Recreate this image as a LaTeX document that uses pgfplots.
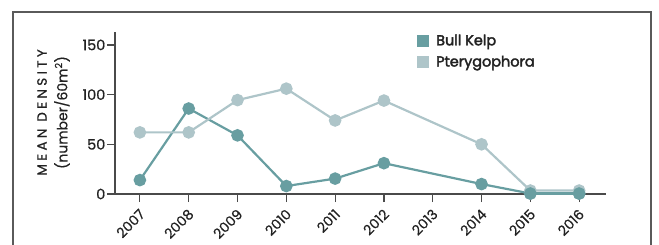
\documentclass[border=0pt]{standalone}
\usepackage{fontspec}
\setmainfont{Poppins}[FakeBold=0.6]
\newfontfamily\spaced[LetterSpace=25,FakeBold=0.8]{Poppins}
\newfontfamily\legfont[FakeBold=2.5]{Poppins}
\usepackage{pgfplots}
\pgfplotsset{compat=1.18}
\definecolor{bullkelp}{HTML}{689EA1}
\definecolor{ptery}{HTML}{AEC5C9}
\definecolor{axisc}{HTML}{4A4A4A}
\definecolor{framec}{HTML}{5A5A5A}
\definecolor{txt}{HTML}{222222}
\begin{document}
\begin{tikzpicture}[x=1bp,y=1bp]
\path[use as bounding box] (0,0) rectangle (659,244);
\draw[framec, line width=1.2bp] (13,-2) -- (13,232) -- (651,232) -- (651,-2);
\node[rotate=90, font=\spaced\fontsize{13.5}{14}\selectfont, text=txt] at (42,131.5) {MEAN DENSITY};
\node[rotate=90, font=\fontsize{14}{14}\selectfont, text=txt] at (62,131.5) {(number/60m\textsuperscript{2})};
\begin{axis}[
  at={(115bp,50bp)}, anchor=south west,
  scale only axis, width=491bp, height=162bp,
  xmin=-0.51, xmax=9.55, ymin=0, ymax=163,
  axis lines=left, axis line style={draw=axisc, line width=1.3bp, -},
  xtick={0,1,2,3,4,5,6,7,8,9},
  xticklabels={2007,2008,2009,2010,2011,2012,2013,2014,2015,2016},
  ytick={0,50,100,150},
  tick align=outside, major tick length=8bp,
  tick style={draw=axisc, line width=1.2bp},
  xticklabel style={rotate=45, anchor=east, font=\fontsize{14}{15}\selectfont, text=txt, inner sep=1bp, yshift=-8.5bp, xshift=-4bp},
  yticklabel style={font=\fontsize{14.5}{15}\selectfont, text=txt, inner sep=1.5bp},
  /pgf/number format/assume math mode=true,
  legend style={draw=none, fill=none, at={(rel axis cs:0.615,0.985)}, anchor=north west,
    inner sep=0pt, row sep=9bp, font=\legfont\fontsize{14.5}{15}\selectfont, text=txt,
    nodes={inner sep=0pt, anchor=west}},
  legend cell align=left,
  legend image code/.code={\fill[#1, draw=none] (0bp,-6bp) rectangle (12bp,6bp);},
  clip=false,
]
\addplot[color=bullkelp, line width=2.2bp, mark=*, mark size=5.2bp, mark options={draw=bullkelp, fill=bullkelp}]
  coordinates {(0,14) (1,86) (2,59) (3,8) (4,15.5) (5,31) (7,10) (8,0.5) (9,0.5)};
\addlegendentry{\hspace{7bp}Bull Kelp}
\addplot[color=ptery, line width=2.2bp, mark=*, mark size=5.2bp, mark options={draw=ptery, fill=ptery}]
  coordinates {(0,62) (1,62) (2,94.5) (3,106) (4,74) (5,94) (7,50) (8,3.5) (9,3.5)};
\addlegendentry{\hspace{7bp}Pterygophora}
\addplot[color=bullkelp, line width=2.2bp, mark=*, mark size=5.2bp, mark options={draw=bullkelp, fill=bullkelp}, forget plot]
  coordinates {(8,0.5) (9,0.5)};
\end{axis}
\end{tikzpicture}
\end{document}
